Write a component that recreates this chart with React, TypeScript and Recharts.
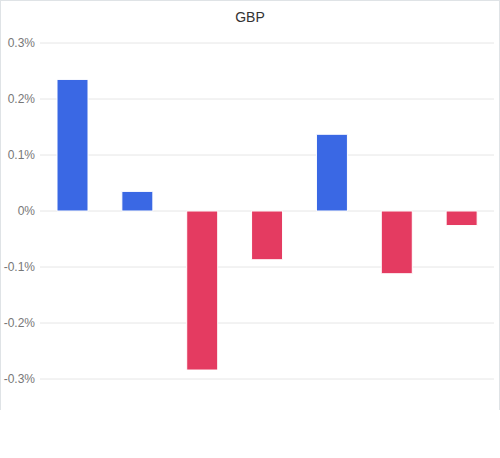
import { BarChart, Bar, Cell, XAxis, YAxis, CartesianGrid } from "recharts";

const categories = ["1", "2", "3", "4", "5", "6", "7"];
const changes = [0.235, 0.035, -0.284, -0.087, 0.137, -0.112, -0.026];
const yTicks = [-0.3, -0.2, -0.1, 0, 0.1, 0.2, 0.3];

const POSITIVE = "#3a68e4";
const NEGATIVE = "#e43b61";

export default function App() {
  const data = categories.map((name, i) => ({ name, value: changes[i] }));

  return (
    <div
      style={{
        position: "absolute",
        left: 0,
        top: 0,
        width: 500,
        height: 410,
        boxSizing: "border-box",
        border: "1px solid #dfe3e6",
        borderBottom: "none",
        fontFamily: "'Liberation Sans', Arial, sans-serif",
        background: "#fff",
      }}
    >
      <div
        style={{
          position: "absolute",
          top: 8,
          left: 0,
          width: 498,
          textAlign: "center",
          fontSize: 14,
          color: "#333",
        }}
      >
        GBP
      </div>
      <BarChart
        width={498}
        height={410}
        data={data}
        margin={{ top: 42, right: 4, bottom: 32, left: 0 }}
        barSize={31}
        style={{ position: "absolute", left: -1, top: 0 }}
      >
        <CartesianGrid vertical={false} stroke="#e6e6e6" />
        <XAxis dataKey="name" hide />
        <YAxis
          width={40}
          domain={[-0.3, 0.3]}
          ticks={yTicks}
          axisLine={false}
          tickLine={false}
          tickSize={5}
          tickMargin={0}
          tickFormatter={(v: number) => `${v}%`}
          tick={{ fill: "#777", fontSize: 12 }}
        />
        <Bar dataKey="value" stroke="#fff" strokeWidth={1} isAnimationActive={false}>
          {data.map((d) => (
            <Cell key={d.name} fill={d.value >= 0 ? POSITIVE : NEGATIVE} />
          ))}
        </Bar>
      </BarChart>
    </div>
  );
}
